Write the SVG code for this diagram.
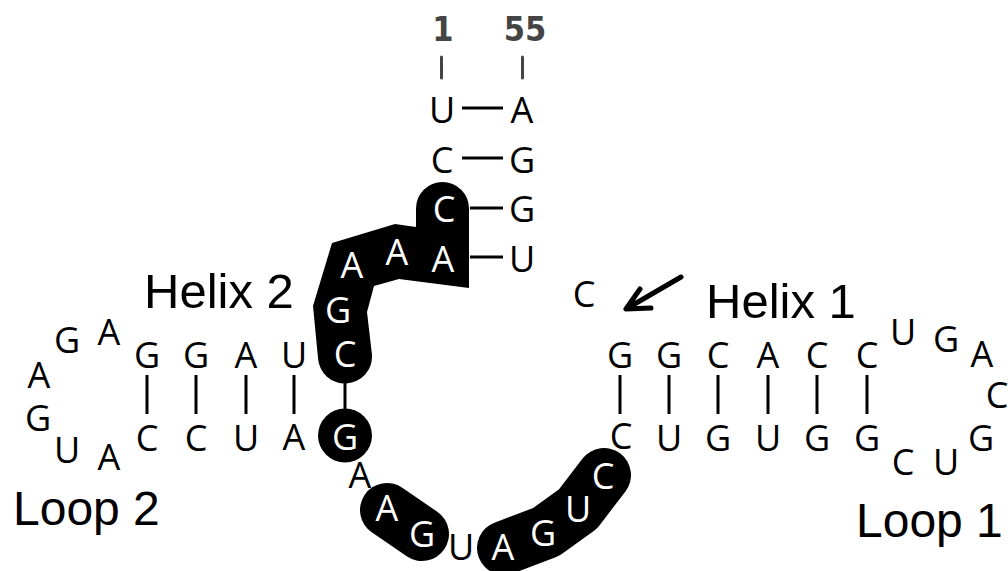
<svg xmlns="http://www.w3.org/2000/svg" width="1008" height="571" viewBox="0 0 1008 571">
<style>
.n{font-family:"Open Sans","DejaVu Sans",sans-serif;font-size:36px;text-anchor:middle;fill:#000}
.w{fill:#fff}
.l{font-family:"Liberation Sans",Arial,sans-serif;font-size:49px;fill:#000}
.o{font-size:48px}
.i{font-family:"DejaVu Sans Condensed","DejaVu Sans",sans-serif;font-stretch:condensed;font-weight:bold;font-size:34px;fill:#444;text-anchor:middle}
.b{stroke:#000;stroke-width:3px;fill:none}
.g{stroke:#444;stroke-width:3px;fill:none;stroke-linecap:round}
.k{fill:#000;stroke:none}
.s{fill:none;stroke:#000;stroke-width:54px;stroke-linecap:round;stroke-linejoin:round}
</style>
<rect width="1008" height="571" fill="#fff"/>
<g id="highlights">
<path class="k" d="M416 208.500A26.500 26.500 0 0 1 469 208.500V288L399 279L374 286L367 312L372 355A27 27 0 0 1 318 358L313 306L332 243L395 224L416 227Z"/>
<circle class="k" cx="345" cy="435.500" r="27"/>
<path class="s" d="M387 510L422 534"/>
<path class="s" d="M504 548L546 532L578 509L604 475"/>
</g>
<g id="connectors">
<path class="g" d="M441.500 57V78M522.500 57V78"/>
<path class="b" d="M462 108H503M462 158H503M470 208H503M470 257H503"/>
<path class="b" d="M147 375V414M196 375V414M246 375V414M294 375V414M345 375V410M620 375V414M669 375V414M718 375V414M768 375V414M817 375V414M867 375V414"/>
<path d="M681 277L626 309M640 289L626 309L651 308" fill="none" stroke="#000" stroke-width="5" stroke-linecap="round" stroke-linejoin="round"/>
</g>
<g id="index-labels"><text class="i" x="443" y="41">1</text><text class="i" x="525" y="41">55</text></g>
<g id="region-labels">
<text class="l" x="144" y="308">Helix 2</text><text class="l" x="706" y="318">Helix 1</text>
<text class="l o" x="13" y="525">Loop 2</text><text class="l o" x="856" y="537">Loop 1</text>
</g>
<g id="stem-top">
<text class="n" x="442" y="123">U</text><text class="n" x="522" y="123">A</text>
<text class="n" x="442" y="173">C</text><text class="n" x="522" y="173">G</text>
<text class="n w" x="444" y="222">C</text><text class="n" x="522" y="222">G</text>
<text class="n w" x="443" y="272">A</text><text class="n" x="522" y="272">U</text>
<text class="n w" x="397" y="265">A</text><text class="n w" x="352" y="278">A</text>
<text class="n w" x="338" y="323">G</text><text class="n w" x="345" y="367">C</text>
</g>
<g id="helix-2">
<text class="n" x="294" y="368">U</text><text class="n" x="246" y="368">A</text><text class="n" x="196" y="368">G</text><text class="n" x="147" y="368">G</text>
<text class="n" x="147" y="451">C</text><text class="n" x="196" y="451">C</text><text class="n" x="246" y="451">U</text><text class="n" x="294" y="450">A</text><text class="n w" x="345" y="450">G</text>
</g>
<g id="loop-2">
<text class="n" x="109" y="345">A</text><text class="n" x="67" y="353">G</text><text class="n" x="39" y="388">A</text><text class="n" x="38" y="431">G</text><text class="n" x="67" y="463">U</text><text class="n" x="109" y="470">A</text>
</g>
<g id="linker">
<text class="n" x="360" y="488">A</text><text class="n w" x="387" y="521">A</text><text class="n w" x="422" y="547">G</text><text class="n" x="461" y="560">U</text><text class="n w" x="503" y="560">A</text><text class="n w" x="543" y="546">G</text><text class="n w" x="578" y="522">U</text><text class="n w" x="603" y="489">C</text>
</g>
<g id="helix-1">
<text class="n" x="620" y="368">G</text><text class="n" x="669" y="368">G</text><text class="n" x="718" y="368">C</text><text class="n" x="768" y="368">A</text><text class="n" x="817" y="368">C</text><text class="n" x="867" y="368">C</text>
<text class="n" x="621" y="449">C</text><text class="n" x="669" y="451">U</text><text class="n" x="718" y="451">G</text><text class="n" x="768" y="451">U</text><text class="n" x="817" y="451">G</text><text class="n" x="867" y="451">G</text>
</g>
<g id="loop-1">
<text class="n" x="903" y="345">U</text><text class="n" x="946" y="352">G</text><text class="n" x="982" y="367">A</text><text class="n" x="997" y="408">C</text><text class="n" x="981" y="451">G</text><text class="n" x="946" y="475">U</text><text class="n" x="903" y="475">C</text>
</g>
<g id="bulge"><text class="n" x="584" y="307">C</text></g>
</svg>
